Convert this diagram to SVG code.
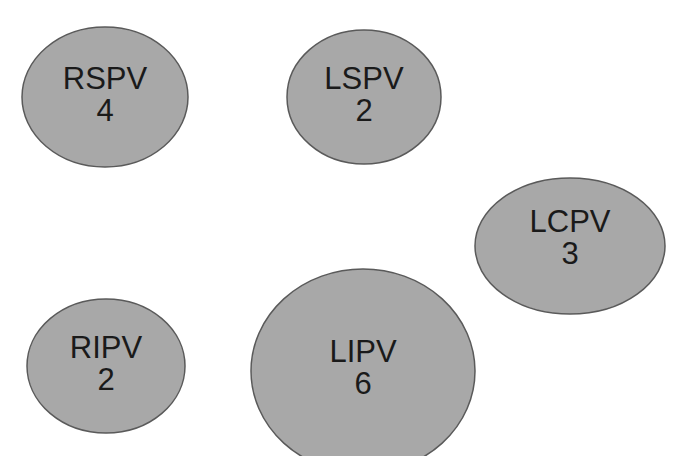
<svg xmlns="http://www.w3.org/2000/svg" width="673" height="456" viewBox="0 0 673 456">
<style>
.n{fill:#a8a8a8;stroke:#5a5a5a;stroke-width:1.5}
.t{font-family:"Liberation Sans",Arial,sans-serif;font-size:31px;fill:#1a1a1a;text-anchor:middle}
</style>
<rect width="673" height="456" fill="#fff"/>
<g id="connectors"></g>
<g id="RSPV"><ellipse class="n" cx="105" cy="97" rx="83" ry="70"/><text class="t" x="105" y="89">RSPV</text><text class="t" x="105" y="121">4</text></g>
<g id="LSPV"><ellipse class="n" cx="364" cy="97" rx="77" ry="67"/><text class="t" x="364" y="89">LSPV</text><text class="t" x="364" y="121">2</text></g>
<g id="LCPV"><ellipse class="n" cx="570" cy="246" rx="95" ry="68"/><text class="t" x="570" y="232">LCPV</text><text class="t" x="570" y="264">3</text></g>
<g id="RIPV"><ellipse class="n" cx="106" cy="366" rx="79" ry="67"/><text class="t" x="106" y="358">RIPV</text><text class="t" x="106" y="390">2</text></g>
<g id="LIPV"><ellipse class="n" cx="363" cy="371" rx="112" ry="102"/><text class="t" x="363" y="362">LIPV</text><text class="t" x="363" y="394">6</text></g>
</svg>
